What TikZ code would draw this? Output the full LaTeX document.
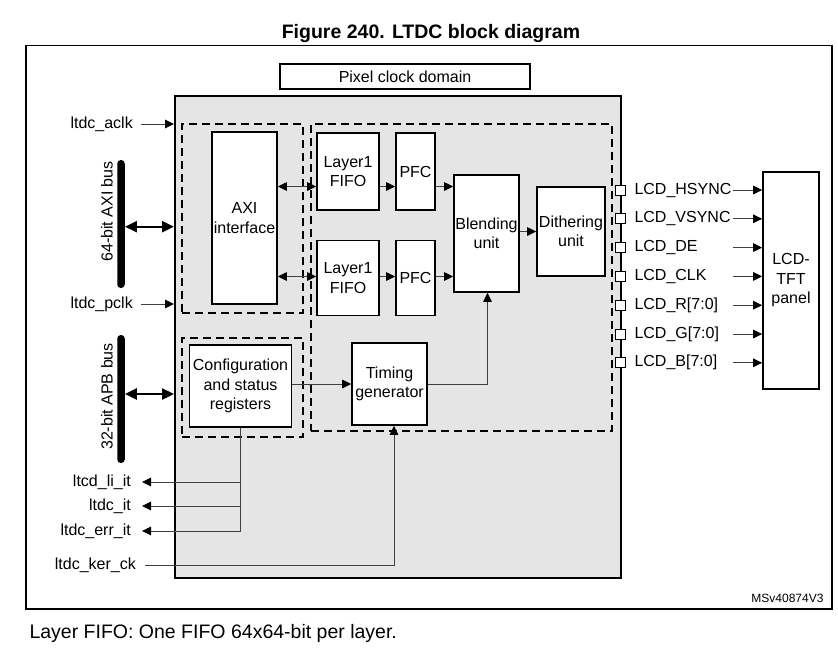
\documentclass[tikz,border=0pt]{standalone}
\usepackage{fontspec}
\setmainfont{Liberation Sans}
\usetikzlibrary{arrows.meta}

\tikzset{
  blk/.style={draw,line width=1.6pt,fill=white,inner sep=1pt,align=center},
  dom/.style={draw,line width=1.3pt,dash pattern=on 8pt off 5pt},
  tip/.tip={Triangle[length=9pt,width=8.5pt,color=black]},
  sig/.style={line width=1pt,draw=black!75,-tip},
  sigboth/.style={line width=1pt,draw=black!75,tip-tip},
  wire/.style={line width=1pt,draw=black!75},
  bus/.style={line width=2.4pt,{Triangle[length=12pt,width=11pt]}-{Triangle[length=12pt,width=11pt]}},
  pin/.style={draw,fill=white,line width=0.8pt,minimum size=10pt,inner sep=0pt},
  bar/.style={fill=black,rounded corners=3.5pt,minimum width=7.5pt,inner sep=0pt},
  lbl/.style={anchor=east,inner xsep=8pt},
}

\begin{document}
\begin{tikzpicture}[x=1pt,y=-1pt,font=\fontsize{16}{19.5}\selectfont]
  \useasboundingbox (0,0) rectangle (838,649);
  \node[font=\fontsize{19.5}{22}\selectfont\bfseries,anchor=base] (title) at (431,38) {Figure 240. LTDC block diagram};
  \draw[line width=1.2pt] (26,45.5) rectangle (832,609);
  \node[anchor=base west,font=\fontsize{19.5}{22}\selectfont] (note) at (26,638) {Layer FIFO: One FIFO 64x64-bit per layer.};
  \node[anchor=base east,font=\fontsize{12}{14}\selectfont] (ref) at (827,602) {MSv40874V3};

  % LTDC block and clock domains
  \node[blk,line width=1.6pt] (pcd) at (405,76.5) [minimum width=250pt,minimum height=25pt] {Pixel clock domain};
  \node[draw,line width=2pt,fill=gray!20,minimum width=446pt,minimum height=482pt] (ltdc) at (398,337) {};
  \node[dom,minimum width=121pt,minimum height=189pt] (axidom) at (242.5,218.5) {};
  \node[dom,minimum width=121pt,minimum height=99pt] (cfgdom) at (242.5,387.5) {};
  \node[dom,minimum width=301pt,minimum height=307pt] (pixdom) at (461.5,277.5) {};

  % blocks
  \node[blk,minimum width=65pt,minimum height=172pt] (axi) at (244.5,218) {AXI\\interface};
  \node[blk,minimum width=102pt,minimum height=82pt] (cfg) at (240.5,386) {Configuration\\and status\\registers};
  \node[blk,minimum width=62pt,minimum height=77pt] (fifoA) at (348,171.5) {Layer1\\FIFO};
  \node[blk,minimum width=62pt,minimum height=75pt] (fifoB) at (348,278) {Layer1\\FIFO};
  \node[blk,minimum width=39pt,minimum height=77pt] (pfcA) at (415.5,171.5) {PFC};
  \node[blk,minimum width=39pt,minimum height=75pt] (pfcB) at (415.5,278) {PFC};
  \node[blk,minimum width=65pt,minimum height=117pt] (blend) at (486.5,233.5) {Blending\\unit};
  \node[blk,minimum width=68pt,minimum height=89pt] (dith) at (571,231.5) {Dithering\\unit};
  \node[blk,minimum width=75pt,minimum height=82pt] (timing) at (389.5,384) {Timing\\generator};
  \node[blk,minimum width=56pt,minimum height=217pt] (panel) at (791,280.5) {LCD-\\TFT\\panel};

  % data path
  \coordinate (rowA) at (0,186.5);
  \coordinate (rowB) at (0,276.5);
  \draw[sigboth] (axi.east |- rowA) -- (fifoA.west |- rowA);
  \draw[sigboth] (axi.east |- rowB) -- (fifoB.west |- rowB);
  \draw[sig] (fifoA.east |- rowA) -- (pfcA.west |- rowA);
  \draw[sig] (fifoB.east |- rowB) -- (pfcB.west |- rowB);
  \draw[sig] (pfcA.east |- rowA) -- (blend.west |- rowA);
  \draw[sig] (pfcB.east |- rowB) -- (blend.west |- rowB);
  \draw[sig] (blend.east |- dith.west) -- (dith.west);
  \draw[sig] (cfg.east |- timing.west) -- (timing.west);
  \draw[sig] (timing.east) -- ([xshift=1pt]blend.south |- timing.east) -- ([xshift=1pt]blend.south);

  % buses
  \node[bar,minimum height=128pt] (axibar) at (121,224) {};
  \node[rotate=90] (axilbl) at (107,211.5) {64-bit AXI bus};
  \node[bar,minimum height=128pt] (apbbar) at (121,399) {};
  \node[rotate=90] (apblbl) at (107,396.5) {32-bit APB bus};
  \coordinate (axirow) at (0,226.7);
  \coordinate (apbrow) at (0,394);
  \draw[bus] (axibar.east |- axirow) -- (ltdc.west |- axirow);
  \draw[bus] (apbbar.east |- apbrow) -- (ltdc.west |- apbrow);

  % clocks and interrupts
  \node[lbl] (aclk) at (141,124) {ltdc\_aclk};
  \node[lbl] (pclk) at (141,304) {ltdc\_pclk};
  \draw[sig] (aclk.east) -- (ltdc.west |- aclk.east);
  \draw[sig] (pclk.east) -- (ltdc.west |- pclk.east);
  \node[lbl,inner xsep=11pt] (liit) at (142,482) {ltcd\_li\_it};
  \node[lbl,inner xsep=11pt] (it) at (142,506) {ltdc\_it};
  \node[lbl,inner xsep=11pt] (errit) at (142,531) {ltdc\_err\_it};
  \draw[wire] (cfg.south) -- (cfg.south |- errit.east);
  \foreach \s in {liit,it,errit}
    \draw[sig] (cfg.south |- \s.east) -- (\s.east);
  \node[lbl,inner xsep=9pt] (kerck) at (145,565) {ltdc\_ker\_ck};
  \draw[sig] (kerck.east) -- ([xshift=4.5pt]timing.south |- kerck.east) -- ([xshift=4.5pt]timing.south);

  % LCD pins
  \foreach \name [count=\i] in {HSYNC,VSYNC,DE,CLK,R[7:0],G[7:0],B[7:0]} {
    \node[pin] (pin\i) at (620.7,{190+(\i-1)*28.8}) {};
    \node[anchor=west] (lcd\i) at (631,{190+(\i-1)*28.8}) {LCD\_\name};
    \coordinate (src\i) at (733,{190+(\i-1)*28.8});
    \draw[sig] (src\i) -- (panel.west |- src\i);
  }
\end{tikzpicture}
\end{document}
